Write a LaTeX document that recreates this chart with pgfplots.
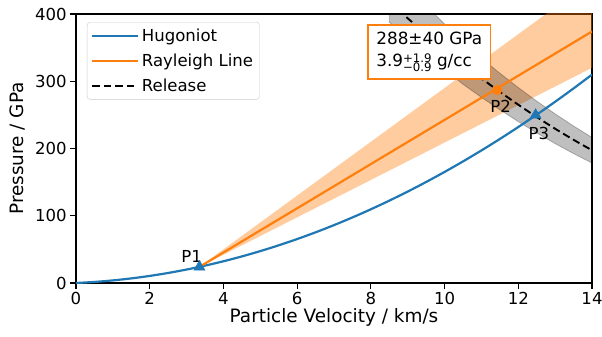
\documentclass[border=0pt]{standalone}
\usepackage{fontspec}
\setmainfont{DejaVu Sans}
\usepackage{pgfplots}
\pgfplotsset{compat=1.18}
\definecolor{C0}{HTML}{1F77B4}
\definecolor{C1}{HTML}{FF7F0E}
\newcommand{\scr}{\fontsize{11.8}{12}\selectfont}
\begin{document}
\begin{tikzpicture}
\useasboundingbox (-76bp,-54bp) rectangle (526bp,283bp);
\begin{axis}[
  at={(0bp,0bp)}, anchor=south west,
  scale only axis, width=516bp, height=269bp,
  xmin=0, xmax=14, ymin=0, ymax=400,
  xtick={0,2,...,14}, ytick={0,100,...,400},
  tick align=outside, xtick pos=bottom, ytick pos=left,
  major tick length=5.8bp,
  tick style={black, line width=1.1bp},
  axis line style={line width=1.1bp},
  /pgf/number format/assume math mode=true,
  tick label style={font=\fontsize{16.6}{18}\selectfont},
  xlabel={Particle Velocity / km/s},
  ylabel={Pressure / GPa},
  label style={font=\fontsize{18.5}{20}\selectfont},
  xlabel style={at={(axis description cs:0.5,-0.145)}, anchor=base},
  ylabel style={at={(axis description cs:-0.1008,0.5)}, anchor=base},
  legend style={at={(0.0213,0.970)}, anchor=north west, draw=black!20,
    rounded corners=3bp, fill=white, fill opacity=0.8, text opacity=1,
    font=\fontsize{16.6}{18}\selectfont, inner xsep=4bp, inner ysep=4bp,
    row sep=6bp, nodes={inner sep=2.5bp}},
  legend cell align=left,
  legend image code/.code={\draw[#1] (0bp,0bp) -- (35bp,0bp); \path (0bp,0bp) -- (46bp,0bp);},
]
% Rayleigh uncertainty band
\addplot[fill=C1, fill opacity=0.4, draw=none, forget plot]
  coordinates {(3.35,24) (14,450) (14,320)} -- cycle;
% Release uncertainty band
\addplot[fill=black, fill opacity=0.25, draw=black, draw opacity=0.25, line width=0.8bp, forget plot]
  coordinates {(8.5,468.2) (9,439.6) (9.5,411.9) (10,385.2) (10.5,359.3) (11,334.8)
   (11.43,315) (12,290.6) (12.5,270.4) (13,251.5) (13.5,233.4) (14,216.4)
   (14,178.4) (13.5,192.4) (13,207.3) (12.5,223.2) (12,240.0) (11.43,260.1)
   (11,276.1) (10.5,295.5) (10,317.7) (9.5,338.9) (9,361.6) (8.5,388)} -- cycle;
% Hugoniot
\addplot[color=C0, line width=2.2bp, smooth] coordinates {
 (0,0) (0.5,1.58) (1,3.86) (1.5,6.85) (2,10.53) (2.5,14.92) (3,20.02) (3.5,25.81)
 (4,32.31) (4.5,39.52) (5,47.42) (5.5,56.03) (6,65.34) (6.5,75.35) (7,86.07)
 (7.5,97.49) (8,109.62) (8.5,122.44) (9,135.97) (9.5,150.2) (10,165.14)
 (10.5,180.78) (11,197.12) (11.5,214.16) (12,231.91) (12.5,250.37) (13,269.51)
 (13.5,289.37) (14,309.94)};
\addlegendentry{Hugoniot}
% Rayleigh line
\addplot[color=C1, line width=2.2bp] coordinates {(3.35,24) (14,374)};
\addlegendentry{Rayleigh Line}
% Release
\addplot[color=black, line width=1.9bp, dash pattern=on 7.5bp off 4bp, smooth] coordinates {
 (8.5,418.2) (9,393.6) (9.5,369.9) (10,347.2) (10.5,325.3) (11,304.3) (11.43,287)
 (12,265.1) (12.5,246.8) (13,229.4) (13.5,212.9) (14,197.4)};
\addlegendentry{Release}
% points
\addplot[only marks, mark=triangle*, mark size=6.4bp, color=C0, forget plot]
  coordinates {(3.35,24) (12.47,249.8)};
\addplot[only marks, mark=*, mark size=4.8bp, color=C1, forget plot]
  coordinates {(11.43,287)};
\node[font=\fontsize{16.6}{18}\selectfont] at (axis cs:3.14,40) {P1};
\node[font=\fontsize{16.6}{18}\selectfont] at (axis cs:11.52,262) {P2};
\node[font=\fontsize{16.6}{18}\selectfont] at (axis cs:12.56,222.6) {P3};
\node[draw=C1, line width=1.7bp, fill=white, anchor=north west, inner xsep=8.5bp,
  inner ysep=7.5bp, align=left, font=\fontsize{16.9}{22}\selectfont]
  at (axis cs:7.895,385) {288±40 GPa\\3.9\rlap{\raisebox{4.6bp}{\scr +1.9}}\raisebox{-4.4bp}{\scr −0.9} g/cc};
\end{axis}
\end{tikzpicture}
\end{document}
